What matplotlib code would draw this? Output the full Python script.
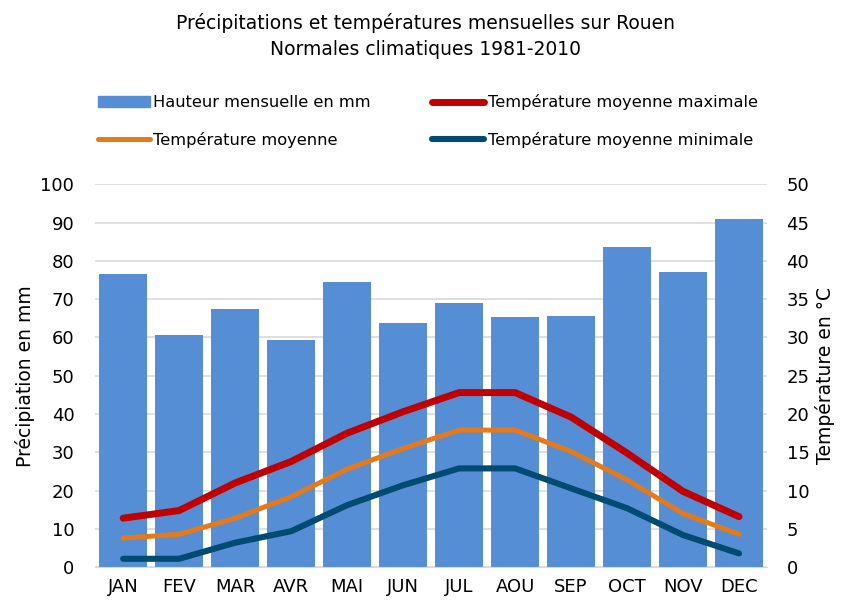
import matplotlib
matplotlib.use('Agg')
import numpy as np
import matplotlib.pyplot as plt
from matplotlib.lines import Line2D
from matplotlib.patches import Patch

months = ['JAN', 'FEV', 'MAR', 'AVR', 'MAI', 'JUN', 'JUL', 'AOU', 'SEP', 'OCT', 'NOV', 'DEC']
precip = [76.5, 60.6, 67.3, 59.4, 74.5, 63.8, 69.1, 65.3, 65.7, 83.6, 77.0, 91.0]
t_max = [6.4, 7.4, 11.0, 13.8, 17.5, 20.3, 22.8, 22.8, 19.6, 14.9, 9.9, 6.6]
t_mean = [3.8, 4.3, 6.4, 9.2, 12.8, 15.5, 17.9, 17.9, 15.1, 11.4, 7.0, 4.3]
t_min = [1.1, 1.1, 3.2, 4.7, 8.1, 10.7, 12.9, 12.9, 10.3, 7.7, 4.2, 1.8]

plt.rcParams['font.family'] = ['DejaVu Sans']
plt.rcParams['font.size'] = 12

bar_col = '#558ed5'
red = '#c00000'
orange = '#e67a1a'
navy = '#004b72'

fig = plt.figure(figsize=(8.42, 6.06), dpi=100)
ax1 = fig.add_axes([0.113, 0.064, 0.798, 0.632])
ax2 = ax1.twinx()

x = np.arange(len(months))
ax1.bar(x, precip, width=0.85, color=bar_col, zorder=2)
ax2.plot(x, t_max, color=red, lw=5, solid_capstyle='round', solid_joinstyle='round')
ax2.plot(x, t_mean, color=orange, lw=3.6, solid_capstyle='round', solid_joinstyle='round')
ax2.plot(x, t_min, color=navy, lw=4.4, solid_capstyle='round', solid_joinstyle='round')

ax1.set_xlim(-0.5, 11.5)
ax1.set_ylim(0, 100)
ax2.set_ylim(0, 50)
ax1.set_yticks(np.arange(0, 101, 10))
ax2.set_yticks(np.arange(0, 51, 5))
ax1.set_xticks(x)
ax1.set_xticklabels(months)
ax1.yaxis.grid(True, color='#d9d9d9', lw=1.2, zorder=0)
ax1.set_axisbelow(True)
for ax in (ax1, ax2):
    for s in ax.spines.values():
        s.set_visible(False)
    ax.tick_params(length=0, labelsize=13, colors='#000000')
ax1.spines['bottom'].set_visible(True)
ax1.spines['bottom'].set_color('#d9d9d9')
ax1.tick_params(axis='y', pad=15)
ax2.tick_params(axis='y', pad=14)
ax1.tick_params(axis='x', pad=8)

ax1.set_ylabel('Précipiation en mm', fontsize=13.5, labelpad=4)
ax2.set_ylabel('Température en °C', fontsize=13.5, labelpad=4)

fig.text(0.505, 0.962, 'Précipitations et températures mensuelles sur Rouen',
         ha='center', va='center', fontsize=13.5)
fig.text(0.505, 0.919, 'Normales climatiques 1981-2010',
         ha='center', va='center', fontsize=13.5)

handles = [Patch(color=bar_col),
           Line2D([], [], color=orange, lw=3.6, solid_capstyle='round'),
           Line2D([], [], color=red, lw=5, solid_capstyle='round'),
           Line2D([], [], color=navy, lw=4.4, solid_capstyle='round')]
labels = ['Hauteur mensuelle en mm', 'Température moyenne',
          'Température moyenne maximale', 'Température moyenne minimale']
fig.legend(handles, labels, ncol=2, loc='center', bbox_to_anchor=(0.508, 0.800),
           frameon=False, fontsize=11.7, handlelength=3.2, handletextpad=0.2,
           columnspacing=3.8, labelspacing=1.35)

plt.savefig('out.png', dpi=100)
